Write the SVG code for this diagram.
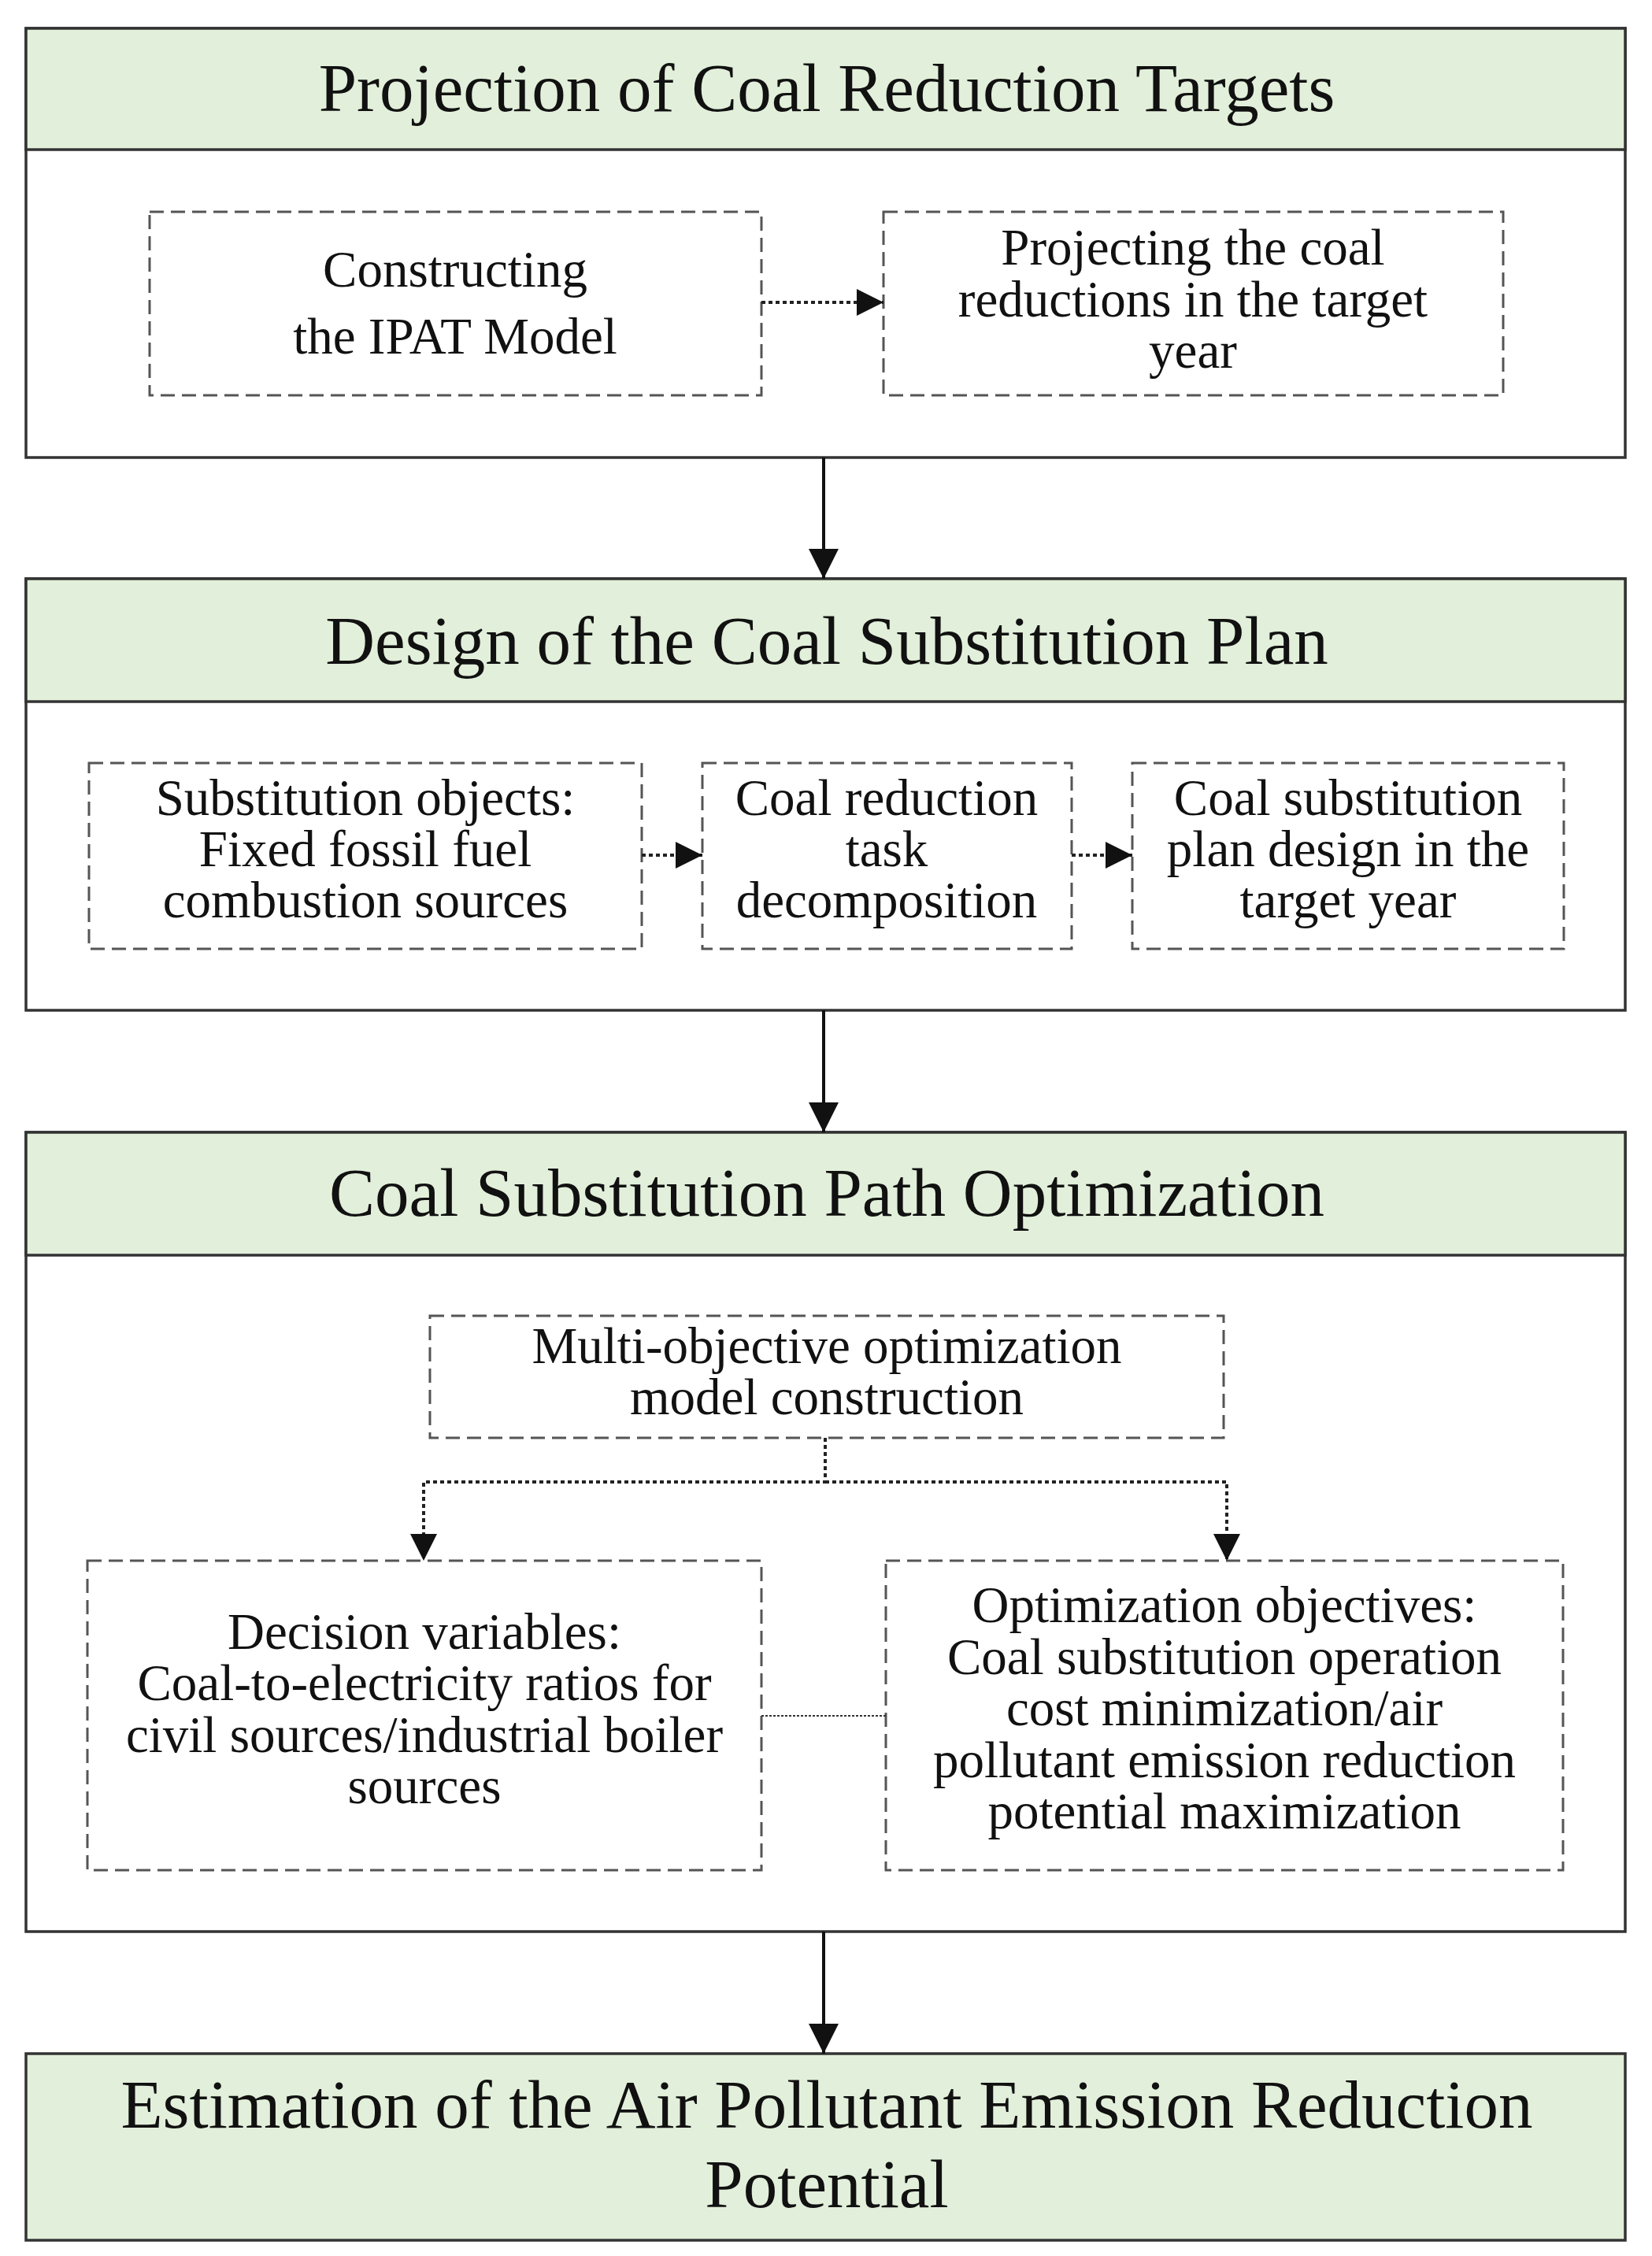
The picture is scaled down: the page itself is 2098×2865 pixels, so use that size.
<svg xmlns="http://www.w3.org/2000/svg" width="2098" height="2865" viewBox="0 0 2098 2865">
<style>
.outer{fill:#ffffff;stroke:#333333;stroke-width:3.5}
.head{fill:#e2efda;stroke:#333333;stroke-width:3.5}
.dbox{fill:#ffffff;stroke:#555555;stroke-width:3;stroke-dasharray:18 9}
.title{font-family:"Liberation Serif","Times New Roman",serif;font-size:87px;fill:#111111;text-anchor:middle}
.txt{font-family:"Liberation Serif","Times New Roman",serif;font-size:65px;fill:#111111;text-anchor:middle}
.main{fill:none;stroke:#111111;stroke-width:4}
.dot{fill:none;stroke:#222222;stroke-width:4;stroke-dasharray:5 4}
.thin{fill:none;stroke:#333333;stroke-width:2;stroke-dasharray:3 2}
</style>
<defs>
<marker id="ah" markerUnits="userSpaceOnUse" markerWidth="40" markerHeight="40" viewBox="0 0 40 40" refX="38" refY="20" orient="auto">
<path d="M0,1 L38,20 L0,39 Z" fill="#111111"/>
</marker>
<marker id="ahs" markerUnits="userSpaceOnUse" markerWidth="36" markerHeight="36" viewBox="0 0 36 36" refX="34" refY="18" orient="auto">
<path d="M0,1 L34,18 L0,35 Z" fill="#111111"/>
</marker>
</defs>
<rect width="2098" height="2865" fill="#ffffff"/>

<g id="section1">
<rect class="outer" x="33" y="36" width="2031" height="545"/>
<rect class="head" x="33" y="36" width="2031" height="154"/>
<text class="title" x="1050" y="141">Projection of Coal Reduction Targets</text>
</g>
<g id="ipat">
<rect class="dbox" x="190" y="269" width="777" height="233"/>
<text class="txt" x="578" y="364">Constructing</text>
<text class="txt" x="578" y="449">the IPAT Model</text>
</g>
<g id="project">
<rect class="dbox" x="1122" y="269" width="787" height="233"/>
<text class="txt" x="1515" y="336">Projecting the coal</text>
<text class="txt" x="1515" y="402">reductions in the target</text>
<text class="txt" x="1515" y="467">year</text>
</g>

<g id="section2">
<rect class="outer" x="33" y="735" width="2031" height="548"/>
<rect class="head" x="33" y="735" width="2031" height="156"/>
<text class="title" x="1050" y="843">Design of the Coal Substitution Plan</text>
</g>
<g id="objects">
<rect class="dbox" x="113" y="969" width="702" height="236"/>
<text class="txt" x="464" y="1035">Substitution objects:</text>
<text class="txt" x="464" y="1100">Fixed fossil fuel</text>
<text class="txt" x="464" y="1165">combustion sources</text>
</g>
<g id="decomp">
<rect class="dbox" x="892" y="969" width="469" height="236"/>
<text class="txt" x="1126" y="1035">Coal reduction</text>
<text class="txt" x="1126" y="1100">task</text>
<text class="txt" x="1126" y="1165">decomposition</text>
</g>
<g id="plan">
<rect class="dbox" x="1438" y="969" width="548" height="236"/>
<text class="txt" x="1712" y="1035">Coal substitution</text>
<text class="txt" x="1712" y="1100">plan design in the</text>
<text class="txt" x="1712" y="1165">target year</text>
</g>

<g id="section3">
<rect class="outer" x="33" y="1438" width="2031" height="1015"/>
<rect class="head" x="33" y="1438" width="2031" height="156"/>
<text class="title" x="1050" y="1544">Coal Substitution Path Optimization</text>
</g>
<g id="multi">
<rect class="dbox" x="546" y="1671" width="1008" height="155"/>
<text class="txt" x="1050" y="1731">Multi-objective optimization</text>
<text class="txt" x="1050" y="1796">model construction</text>
</g>
<g id="decision">
<rect class="dbox" x="111" y="1982" width="856" height="393"/>
<text class="txt" x="539" y="2094">Decision variables:</text>
<text class="txt" x="539" y="2159">Coal-to-electricity ratios for</text>
<text class="txt" x="539" y="2225">civil sources/industrial boiler</text>
<text class="txt" x="539" y="2290">sources</text>
</g>
<g id="objectives">
<rect class="dbox" x="1125" y="1982" width="860" height="393"/>
<text class="txt" x="1555" y="2060">Optimization objectives:</text>
<text class="txt" x="1555" y="2126">Coal substitution operation</text>
<text class="txt" x="1555" y="2191">cost minimization/air</text>
<text class="txt" x="1555" y="2257">pollutant emission reduction</text>
<text class="txt" x="1555" y="2322">potential maximization</text>
</g>

<g id="section4">
<rect class="head" x="33" y="2608" width="2031" height="237"/>
<text class="title" x="1050" y="2702">Estimation of the Air Pollutant Emission Reduction</text>
<text class="title" x="1050" y="2803">Potential</text>
</g>

<g id="connectors">
<line class="main" x1="1046" y1="581" x2="1046" y2="735" marker-end="url(#ah)"/>
<line class="main" x1="1046" y1="1283" x2="1046" y2="1438" marker-end="url(#ah)"/>
<line class="main" x1="1046" y1="2453" x2="1046" y2="2608" marker-end="url(#ah)"/>
<line class="dot" x1="967" y1="384" x2="1122" y2="384" marker-end="url(#ahs)"/>
<line class="dot" x1="815" y1="1086" x2="892" y2="1086" marker-end="url(#ahs)"/>
<line class="dot" x1="1361" y1="1086" x2="1438" y2="1086" marker-end="url(#ahs)"/>
<polyline class="dot" points="1048,1826 1048,1882 538,1882 538,1982" marker-end="url(#ahs)"/>
<polyline class="dot" points="1048,1882 1558,1882 1558,1982" marker-end="url(#ahs)"/>
<line class="thin" x1="967" y1="2179" x2="1125" y2="2179"/>
</g>
</svg>
